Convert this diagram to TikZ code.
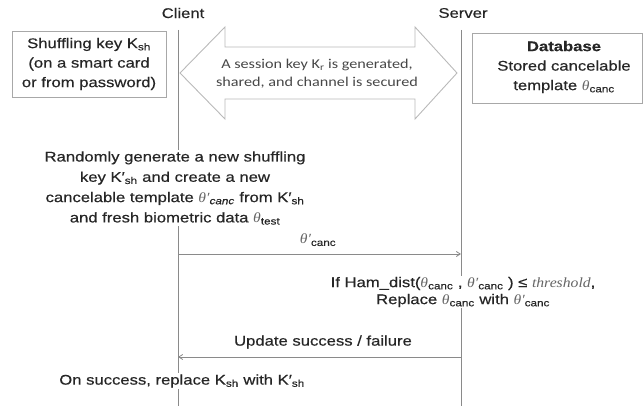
\documentclass[tikz,border=0pt]{standalone}
\usepackage{fontspec}
\setmainfont{Liberation Sans}[FakeStretch=1.19,FakeBold=0.4]
\newfontfamily\sessfont{Carlito}[FakeStretch=1.2]
\newfontfamily\grk{Liberation Serif}[FakeStretch=1.12]
\usetikzlibrary{arrows.meta}
\definecolor{ink}{HTML}{262626}
\definecolor{rule}{HTML}{8A8A8A}
\definecolor{frame}{HTML}{A8A8A8}
\newcommand{\thet}{{\grk\itshape\color{gray!80!black}θ}}
\newcommand{\thetp}{{\grk\itshape\color{gray!80!black}θ′}}
\newcommand{\sub}[1]{\textsubscript{#1}}
\begin{document}
\begin{tikzpicture}[x=1pt,y=-1pt,
  every node/.style={text=ink,font=\fontsize{14}{19.5}\selectfont},
  lifeline/.style={draw=rule,line width=0.8pt},
  msg/.style={draw=rule,line width=0.8pt,-{Straight Barb[length=4pt,width=5pt]}},
  keybox/.style={draw=frame,line width=0.8pt,minimum width=154pt,minimum height=66pt,inner sep=0pt},
  note/.style={fill=white,align=center,inner sep=1pt}]
\useasboundingbox (0,0) rectangle (643,406);

% actors and lifelines
\node (client) at (183,13) {Client};
\node (server) at (463,13) {Server};
\coordinate (cTop) at (178,30);
\coordinate (cBot) at (178,406);
\coordinate (sTop) at (461,30);
\coordinate (sBot) at (461,406);
\draw[lifeline] (cTop) -- (cBot);
\draw[lifeline] (sTop) -- (sBot);

% client key store
\node[keybox,align=center] (keystore) at (89,64)
  {Shuffling key K\sub{sh}\\(on a smart card\\or from password)};

% server database
\node[keybox,minimum width=170pt,minimum height=70pt] (db) at (557,68) {};
\node[align=center,inner sep=0pt] (dbtext) at (564,67)
  {\textbf{Database}\\Stored cancelable\\template \thet\sub{canc}};

% secure channel double arrow
\draw[draw=frame!80,line width=0.9pt,line join=miter]
  (180,73) -- (225,27) -- (225,47) -- (415,47) -- (415,27) -- (457,73)
  -- (415,119) -- (415,99) -- (225,99) -- (225,119) -- cycle;
\node[align=center,font=\sessfont\fontsize{13.5}{18}\selectfont,text=ink!85] (channel) at (317,74)
  {A session key K\sub{r} is generated,\\shared, and channel is secured};

% template renewal on the client
\node[note,font=\fontsize{14}{20.3}\selectfont] (renew) at (175,188)
  {Randomly generate a new shuffling\\key K′\sub{sh} and create a new\\cancelable template \thetp\sub{\itshape canc} from K′\sub{sh}\\and fresh biometric data \thet\sub{test}};

% new template sent to the server
\coordinate (m1c) at (178,254);
\coordinate (m1s) at (461,254);
\draw[msg] (m1c) -- (m1s);
\node (m1label) at (318,240) {\thetp\sub{canc}};

% server-side check
\node[note,font=\fontsize{14}{17}\selectfont] (check) at (463,292)
  {If Ham\_dist(\thet\sub{canc} , \thetp\sub{canc} ) ≤ {\grk\itshape\color{gray!80!black}threshold},\\Replace \thet\sub{canc} with \thetp\sub{canc}};

% reply to the client
\coordinate (m2s) at (461,357);
\coordinate (m2c) at (178,357);
\draw[msg] (m2s) -- (m2c);
\node (m2label) at (323,342) {Update success / failure};

% final key replacement
\node[note] (final) at (182,381) {On success, replace K\sub{sh} with K′\sub{sh}};
\end{tikzpicture}
\end{document}
